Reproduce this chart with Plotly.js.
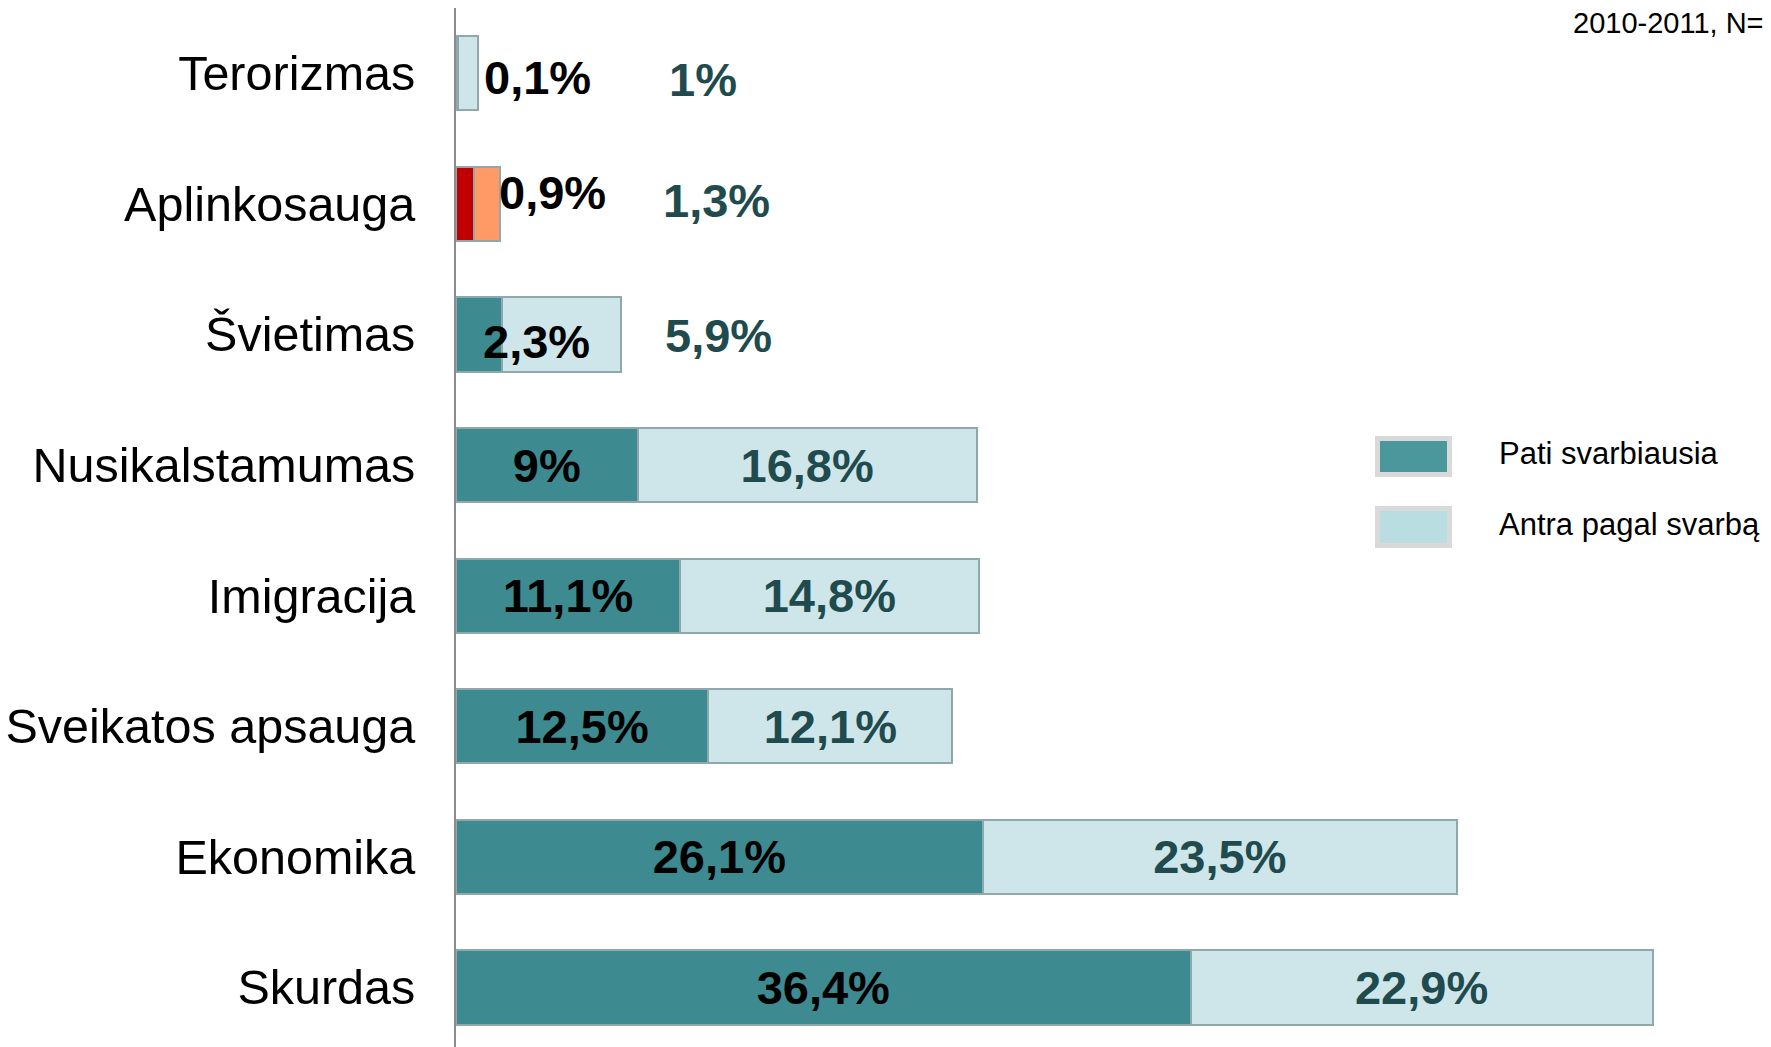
<!DOCTYPE html>
<html>
<head>
<meta charset="utf-8">
<script src="https://cdn.plot.ly/plotly-3.0.1.min.js"></script>
<style>
html,body{margin:0;padding:0;background:#fff;}
#chart{width:1771px;height:1047px;}
</style>
</head>
<body>
<div id="chart"></div>
<script>
// Data (top to bottom)
const categories = ["Terorizmas","Aplinkosauga","Švietimas","Nusikalstamumas","Imigracija","Sveikatos apsauga","Ekonomika","Skurdas"];
const mostImportant = [0.1, 0.9, 2.3, 9, 11.1, 12.5, 26.1, 36.4];
const secondImportant = [1, 1.3, 5.9, 16.8, 14.8, 12.1, 23.5, 22.9];
const seriesNames = ["Pati svarbiausia", "Antra pagal svarbą"];
const noteText = "2010-2011, N=";

const fmt = v => String(v).replace('.', ',') + '%';

const DARK = '#3D8B91', LIGHT = '#CEE6E9', BORDER = '#8FA8AB';
const RED = '#C00000', ORANGE = '#FF9966';
const LABEL2 = '#1F4B4E';
const FONT = 'Liberation Sans, Arial, sans-serif';

// rows whose labels sit outside the bars (too small for inside labels)
const smallRow = categories.map((c, i) => mostImportant[i] + secondImportant[i] < 10);

const darkColors = categories.map(c => c === 'Aplinkosauga' ? RED : DARK);
const lightColors = categories.map(c => c === 'Aplinkosauga' ? ORANGE : LIGHT);

const traces = [
  {
    type: 'bar', orientation: 'h', name: seriesNames[0],
    y: categories, x: mostImportant,
    marker: {color: darkColors, line: {color: BORDER, width: 2}},
    text: mostImportant.map(fmt),
    textposition: smallRow.map(s => s ? 'none' : 'inside'),
    insidetextanchor: 'middle',
    textfont: {family: FONT, size: 47, color: '#000000', weight: 700},
    hoverinfo: 'none'
  },
  {
    type: 'bar', orientation: 'h', name: seriesNames[1],
    y: categories, x: secondImportant,
    marker: {color: lightColors, line: {color: BORDER, width: 2}},
    text: secondImportant.map(fmt),
    textposition: smallRow.map(s => s ? 'none' : 'inside'),
    insidetextanchor: 'middle',
    textfont: {family: FONT, size: 47, color: LABEL2, weight: 700},
    hoverinfo: 'none'
  }
];

// Outside labels for the small rows
const outerX1 = [4.06, 4.8, 4.0];
const outerX2 = [12.24, 12.93, 13.0];
const shift1 = [-4, 11, -7];
const shift2 = [-6, 3, -1];
const annotations = [];
let k = 0;
categories.forEach((c, i) => {
  if (!smallRow[i]) return;
  annotations.push({x: outerX1[k], y: c, xref: 'x', yref: 'y', text: fmt(mostImportant[i]), showarrow: false,
    xanchor: 'center', yanchor: 'middle', yshift: shift1[k],
    font: {family: FONT, size: 47, color: '#000000', weight: 700}});
  annotations.push({x: outerX2[k], y: c, xref: 'x', yref: 'y', text: fmt(secondImportant[i]), showarrow: false,
    xanchor: 'center', yanchor: 'middle', yshift: shift2[k],
    font: {family: FONT, size: 47, color: LABEL2, weight: 700}});
  k++;
});

// Legend (drawn manually for large swatches)
const L = 456, R = 5, T = 8, B = 0, W = 1771, H = 1047;
const pw = W - L - R, ph = H - T - B;
const px = x => (x - L) / pw;
const py = y => 1 - (y - T) / ph;
const shapes = [
  {type: 'rect', xref: 'paper', yref: 'paper', x0: px(1377.5), x1: px(1449.5), y0: py(474.5), y1: py(438.5),
   fillcolor: '#4A979C', line: {color: '#D9D9D9', width: 5}},
  {type: 'rect', xref: 'paper', yref: 'paper', x0: px(1377.5), x1: px(1449.5), y0: py(545.5), y1: py(508.5),
   fillcolor: '#B9DDE0', line: {color: '#D9D9D9', width: 5}}
];
annotations.push({xref: 'paper', yref: 'paper', x: px(1497), y: py(453), xanchor: 'left', yanchor: 'middle',
  text: seriesNames[0], showarrow: false, font: {family: FONT, size: 31, color: '#000'}});
annotations.push({xref: 'paper', yref: 'paper', x: px(1497), y: py(524), xanchor: 'left', yanchor: 'middle',
  text: seriesNames[1], showarrow: false, font: {family: FONT, size: 31, color: '#000'}});
annotations.push({xref: 'paper', yref: 'paper', x: px(1571), y: py(23), xanchor: 'left', yanchor: 'middle',
  text: noteText, showarrow: false, font: {family: FONT, size: 29, color: '#000'}});

const pxPerPct = 20.18;
const layout = {
  width: W, height: H,
  margin: {l: L, r: R, t: T, b: B, pad: 0},
  paper_bgcolor: '#ffffff', plot_bgcolor: '#ffffff',
  barmode: 'stack', bargap: 0.433,
  showlegend: false,
  font: {family: FONT},
  xaxis: {range: [0, pw / pxPerPct], showgrid: false, zeroline: false, showticklabels: false, showline: false, fixedrange: true},
  yaxis: {
    type: 'category', categoryorder: 'array', categoryarray: categories,
    range: [-0.5 + ph / 130.6, -0.5],
    showline: true, linecolor: '#8C8C8C', linewidth: 2,
    showgrid: false, zeroline: false,
    ticks: 'outside', ticklen: 29, tickcolor: 'rgba(0,0,0,0)',
    tickfont: {family: FONT, size: 48.5, color: '#000000'},
    fixedrange: true
  },
  shapes: shapes,
  annotations: annotations
};

Plotly.newPlot('chart', traces, layout, {displayModeBar: false, staticPlot: true});
</script>
</body>
</html>
